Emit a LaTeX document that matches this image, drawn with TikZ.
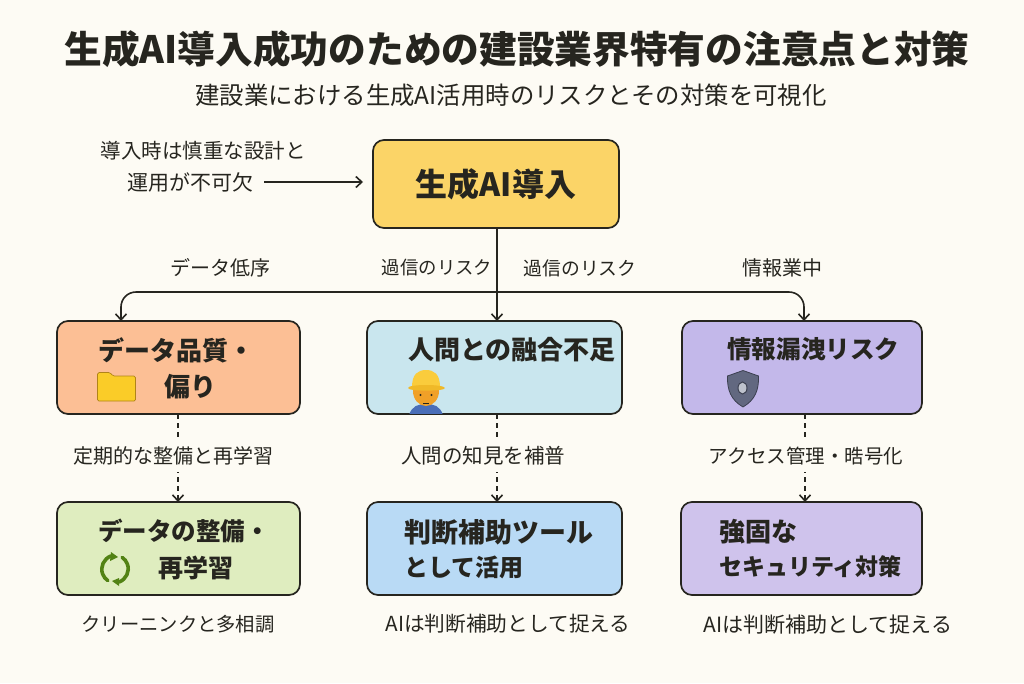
\documentclass[tikz,border=0pt]{standalone}
\usepackage{fontspec}
\setmainfont{Noto Sans CJK JP}
\usetikzlibrary{arrows.meta,calc}
\definecolor{bg}{HTML}{FDFBF4}
\definecolor{ink}{HTML}{26251F}
\definecolor{ctop}{HTML}{FBD467}
\definecolor{cb1}{HTML}{FCBF95}
\definecolor{cb2}{HTML}{C9E6EE}
\definecolor{cb3}{HTML}{C3B8EA}
\definecolor{cc1}{HTML}{DFEDBF}
\definecolor{cc2}{HTML}{B9DAF5}
\definecolor{cc3}{HTML}{CFC3EC}
\definecolor{folderl}{HTML}{B08418}
\definecolor{folderf}{HTML}{FACC28}
\definecolor{shirt}{HTML}{4A6EB8}
\definecolor{skin}{HTML}{F0A028}
\definecolor{hat}{HTML}{FACC3C}
\definecolor{brim}{HTML}{F0B928}
\definecolor{shieldl}{HTML}{3C4050}
\definecolor{shieldf}{HTML}{626880}
\definecolor{shieldi}{HTML}{BEC2CD}
\definecolor{leaf}{HTML}{528214}
\newcommand{\fs}[1]{\fontsize{#1}{#1}\selectfont}
\tikzset{
  box/.style={draw=ink,line width=1.7pt,rounded corners=11pt,inner sep=0pt,outer sep=0pt},
  lbl/.style={inner sep=0pt,text=ink,font=\fs{20}},
  cover/.style={lbl,fill=bg,inner xsep=2pt,minimum height=31pt},
  head/.style={inner sep=0pt,anchor=west,text=ink,font=\fs{26}\bfseries},
  conn/.style={draw=ink,line width=1.6pt,-{Straight Barb[length=6pt,width=11pt,line width=1.6pt]}},
  dconn/.style={conn,dash pattern=on 5pt off 4pt},
}
\begin{document}
\begin{tikzpicture}[x=1pt,y=-1pt]
\useasboundingbox (0,0) rectangle (1024,683);
\fill[bg] (0,0) rectangle (1024,683);
% titles
\node[inner sep=0pt,text=ink,font=\fs{37.7}\bfseries] (title) at (517,49) {生成AI導入成功のための建設業界特有の注意点と対策};
\node[inner sep=0pt,text=ink,font=\fs{24.4}] (sub) at (511,95) {建設業における生成AI活用時のリスクとその対策を可視化};
% boxes
\node[box,fill=ctop,minimum width=246pt,minimum height=88pt,font=\fs{32}\bfseries,text=ink] (topbox) at (496,184) {生成AI導入};
\node[box,fill=cb1,minimum width=243pt,minimum height=93pt] (b1) at (178.5,367.5) {};
\node[box,fill=cb2,minimum width=255pt,minimum height=93pt] (b2) at (494.5,367.5) {};
\node[box,fill=cb3,minimum width=240pt,minimum height=93pt] (b3) at (802,367.5) {};
\node[box,fill=cc1,minimum width=243pt,minimum height=93pt] (c1) at (178.5,548.5) {};
\node[box,fill=cc2,minimum width=255pt,minimum height=93pt] (c2) at (494.5,548.5) {};
\node[box,fill=cc3,minimum width=241pt,minimum height=93pt] (c3) at (801.5,548.5) {};
% column coordinates
\coordinate (xa) at (121,0);
\coordinate (xb) at (497,0);
\coordinate (xc) at (804,0);
\coordinate (xd) at (178,0);
\coordinate (xe) at (805,0);
\coordinate (bus) at (0,292);
% note and connectors
\node[lbl,font=\fs{20.5}] (note1) at (203,151) {導入時は慎重な設計と};
\node[lbl,anchor=east,font=\fs{21}] (note2) at (254,182) {運用が不可欠};
\draw[conn,shorten <=10pt,shorten >=10pt] (note2.east) -- (note2.east -| topbox.west);
\draw[conn] (xb |- topbox.south) -- (xb |- b2.north);
\draw[conn,rounded corners=15pt] (xb |- bus) -- (xa |- bus) -- (xa |- b1.north);
\draw[conn,rounded corners=15pt] (xb |- bus) -- (xc |- bus) -- (xc |- b3.north);
\draw[dconn] (xd |- b1.south) -- (xd |- c1.north);
\draw[dconn] (xb |- b2.south) -- (xb |- c2.north);
\draw[dconn] (xe |- b3.south) -- (xe |- c3.north);
% branch labels
\node[lbl] (l1) at (220,268) {データ低序};
\node[lbl,font=\fs{18.4}] (l2) at (437,268) {過信のリスク};
\node[lbl,font=\fs{18.8}] (l3) at (580,268) {過信のリスク};
\node[lbl] (l4) at (782,268) {情報業中};
\node[cover] (m1) at (173,456) {定期的な整備と再学習};
\node[cover,font=\fs{20.5}] (m2) at (483,456) {人問の知見を補普};
\node[cover,font=\fs{19.5}] (m3) at (806,456) {アクセス管理・晧号化};
\node[lbl,font=\fs{19.3}] (n1) at (178,624) {クリーニンクと多相調};
\node[lbl,font=\fs{20.7}] (n2) at (508,624) {AIは判断補助として捉える};
\node[lbl,font=\fs{21}] (n3) at (828,625) {AIは判断補助として捉える};
% box headings
\node[head] (h1a) at (98,350) {データ品質・};
\node[head] (h1b) at (164,387) {偏り};
\node[head] (h2) at (408,350) {人問との融合不足};
\node[head,font=\fs{24.6}\bfseries] (h3) at (727,349) {情報漏洩リスク};
\node[head,font=\fs{24.5}\bfseries] (k1a) at (98,531) {データの整備・};
\node[head,font=\fs{25}\bfseries] (k1b) at (158,568) {再学習};
\node[head,font=\fs{27}\bfseries] (k2a) at (404,532) {判断補助ツール};
\node[head,font=\fs{24}\bfseries] (k2b) at (404,567) {として活用};
\node[head] (k3a) at (719,532) {強固な};
\node[head,font=\fs{23}\bfseries] (k3b) at (719,567) {セキュリティ対策};
% folder icon
\draw[draw=folderl,line width=.7pt,fill=folderf,rounded corners=1.5pt]
  (97.5,401) -- (97.5,372.5) -- (110,372.5) -- (113,376) -- (135.5,376) -- (135.5,401) -- cycle;
% worker icon
\begin{scope}
\clip (400,365) rectangle (450,413.2);
\fill[shirt] (409,415) .. controls (412,406) and (418,404) .. (426,404) .. controls (434,404) and (440,406) .. (443,415) -- cycle;
\fill[skin] (426,391) ellipse (13pt and 15pt);
\fill[hat] (412,387) .. controls (412,374) and (418,370) .. (426,370) .. controls (434,370) and (440,374) .. (440,387) -- cycle;
\fill[brim] (408,388) .. controls (408,384) and (444,384) .. (445,388) .. controls (445,391.5) and (408,391.5) .. (408,388) -- cycle;
\fill[ink] (420.5,395) circle (1.2pt) (431.5,395) circle (1.2pt);
\draw[ink,line width=.7pt] (423,403) -- (429,403);
\end{scope}
% shield icon
\draw[draw=shieldl,line width=.8pt,fill=shieldf]
  (743,370.5) -- (758.5,376) .. controls (759,390) and (755,400) .. (743,407) .. controls (731,400) and (727,390) .. (727.5,376) -- cycle;
\draw[draw=shieldl,line width=1pt,fill=shieldi] (742.5,388) ellipse (4.5pt and 6pt);
% refresh icon
\begin{scope}[draw=leaf,line width=3.6pt,line cap=round]
\draw (111,556) arc[start angle=110,end angle=235,radius=14pt];
\draw (119,582) arc[start angle=-70,end angle=55,radius=14pt];
\end{scope}
\fill[leaf] (111,552) -- (118,557) -- (110,561) -- cycle;
\fill[leaf] (119,578) -- (112,581) -- (119,586) -- cycle;
\end{tikzpicture}
\end{document}
